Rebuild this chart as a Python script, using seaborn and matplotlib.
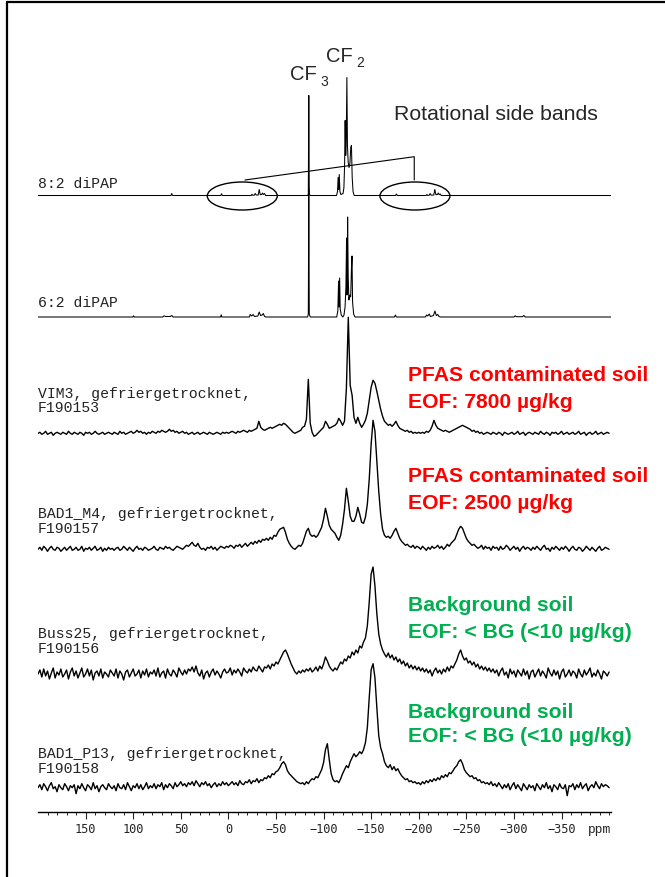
import numpy as np
import matplotlib
matplotlib.use("Agg")
import matplotlib.pyplot as plt
from matplotlib.patches import Ellipse
from matplotlib.lines import Line2D
import seaborn as sns

# ---------------- DATA ----------------
# chemical shift axis of the noisy soil spectra (ppm), 2 ppm sampling
ppm_grid = np.arange(200, -401, -2)

# reference standards: (ppm, intensity) vertices of the line spectra
dipap82_points = [
    (200, 0), (60.3, 0), (59.5, 2), (58.7, 0), (8, 0), (7.2, 1.8), (6.4, 0),
    (-24, 0), (-24.8, 1.2), (-25.8, 0.2), (-27.3, 0.3), (-28.2, 2), (-29.3, 0.5),
    (-31.4, 0.5), (-32.4, 6), (-33.5, 0.8), (-35, 1), (-35.8, 2.5), (-36.8, 1),
    (-38, 2), (-39.2, 0), (-83.4, 0), (-84, 2), (-84.5, 100), (-85, 2), (-85.8, 0),
    (-113.6, 0), (-114.7, 4), (-115.3, 18), (-115.9, 6), (-116.5, 21), (-117.2, 4),
    (-118.2, 1), (-120.5, 2), (-121.4, 8), (-122.1, 30), (-122.7, 75), (-123.3, 40),
    (-123.9, 58), (-124.5, 118), (-125.1, 50), (-125.9, 33), (-126.8, 28),
    (-127.7, 32), (-128.6, 48), (-129.3, 50), (-130.1, 18), (-131, 4), (-132.2, 0),
    (-175.6, 0), (-176.5, 1.5), (-177.4, 0), (-207.6, 0), (-208.5, 1), (-209.5, 0),
    (-211, 0.3), (-212, 2), (-213, 0.3), (-215.8, 0.5), (-216.9, 6), (-218, 0.8),
    (-219.6, 1), (-220.5, 2.5), (-221.5, 0.8), (-222.6, 1.5), (-223.6, 0), (-402, 0),
]
dipap62_points = [
    (200, 0), (100.3, 0), (99.6, 1.2), (98.9, 0), (69, 0), (67.5, 1.2), (66, 0.5),
    (61, 0.5), (59.5, 1.5), (58, 0), (8.2, 0), (7.5, 2.2), (6.8, 0), (-22, 0),
    (-23, 2.5), (-24.5, 1), (-26, 2.5), (-27.5, 0.5), (-31, 1), (-32.4, 5),
    (-33.8, 1.5), (-35.5, 2), (-36.7, 3.5), (-38, 0.5), (-39.5, 0), (-83.2, 0),
    (-84, 3), (-84.5, 128), (-85, 3), (-86, 0), (-113.8, 0), (-115, 6), (-115.8, 36),
    (-116.3, 10), (-116.9, 39), (-117.5, 8), (-118.6, 2), (-120.3, 0), (-121.5, 2),
    (-122.6, 10), (-123.5, 30), (-124.2, 79), (-124.7, 22), (-125.3, 100),
    (-125.9, 40), (-126.6, 17), (-127.5, 22), (-128.5, 20), (-129.3, 48),
    (-129.9, 61), (-130.5, 15), (-131.6, 3), (-133, 0), (-174.5, 0), (-175.5, 2),
    (-176.5, 0), (-207, 0), (-208.2, 2), (-209.5, 1), (-211, 3), (-212.3, 0.5),
    (-215.5, 1.5), (-217, 6), (-218.5, 1.5), (-220, 2.5), (-221.3, 0.5), (-223, 0),
    (-300, 0), (-301.3, 1.2), (-302.5, 0.3), (-309, 0.3), (-310.5, 1.5), (-312, 0),
    (-402, 0),
]

# soil samples: intensity on ppm_grid (200 ... -400 ppm)
vim3_int = [
    0, 1, -1, 0, 2, -1, 0, 1, -2, 0, 1, 0, -1, 1, 0, -1, 2, 0, -1, 1,
    0, -1, 1, 0, -2, 1, 0, 1, -1, 0, 2, 0, -1, 0, 1, -1, 0, 1, 0, -1,
    1, 0, -1, 2, 0, 1, -1, 0, 1, 2, 0, 1, 3, 1, 2, 0, 1, -1, 1, 0,
    2, 1, 0, 2, 1, 3, 2, 1, 2, 4, 2, 3, 1, 2, 0, 1, 2, 0, 1, -1,
    0, 1, -1, 0, 1, -1, 0, 1, 0, -1, 1, 0, -1, 0, 1, 0, -1, 1, 0, 1,
    0, 1, 2, 1, 0, 2, 1, 2, 3, 2, 1, 3, 2, 3, 4, 5, 12, 6, 4, 3,
    4, 5, 6, 5, 6, 7, 8, 9, 8, 10, 9, 7, 5, 3, 1, 0, 1, 2, 3, 6,
    7, 14, 54, 10, 1, -3, -2, 0, 2, 4, 6, 12, 9, 5, 6, 7, 8, 10, 15, 12,
    8, 12, 45, 116, 48, 38, 16, 10, 16, 10, 6, 9, 13, 20, 33, 46, 53, 50, 42, 33,
    24, 17, 12, 10, 8, 9, 7, 9, 12, 8, 5, 4, 3, 2, 3, 1, 2, 0, 1, 0,
    1, 0, 1, 0, 2, 1, 3, 7, 13, 8, 5, 4, 3, 2, 3, 2, 1, 2, 3, 4,
    5, 6, 7, 8, 7, 6, 5, 4, 2, 3, 1, 2, 0, 1, -1, 0, 1, 0, -1, 1,
    0, -1, 1, 0, -2, 1, 0, -1, 0, 1, -1, 0, 2, -1, 0, 1, -2, 0, 1, 0,
    -1, 1, 0, -1, 2, 0, -1, 1, 0, -2, 1, 0, 1, -1, 0, 2, -1, 0, 1, -1,
    0, 1, -1, 0, 2, -1, 0, 1, -2, 0, 1, -1, 0, 2, -1, 0, 1, -1, 0, 1,
    0,
]
bad1_m4_int = [
    0, 2, -1, 3, 1, -2, 1, 3, 0, -1, 2, 1, -2, 0, 2, -1, 1, 3, -1, 0,
    2, -1, 0, 3, -2, 1, 0, 2, -1, 1, 3, -1, 0, 2, -2, 1, -1, 2, 0, 1,
    -1, 1, 2, -1, 0, 3, 1, -1, 2, 0, -2, 1, 3, 0, 1, -1, 2, 1, -1, 0,
    1, 3, 0, -1, 2, 1, 0, 3, 1, 2, 0, -1, 1, 3, 2, 1, 0, 2, 4, 3,
    5, 7, 4, 3, 6, 2, 0, 1, -1, 2, 1, 3, 0, 2, -1, 1, 3, 2, 1, 3,
    2, 4, 3, 1, 4, 3, 5, 2, 4, 6, 3, 5, 7, 5, 8, 6, 9, 7, 10, 9,
    11, 9, 12, 10, 14, 13, 17, 20, 21, 22, 17, 10, 6, 3, 1, 0, 2, 4, 3, 6,
    12, 18, 21, 15, 13, 14, 12, 14, 18, 22, 30, 41, 33, 24, 20, 18, 16, 12, 9, 14,
    25, 40, 61, 48, 33, 28, 28, 33, 42, 35, 27, 26, 32, 45, 70, 105, 129, 118, 88, 58,
    35, 20, 14, 12, 13, 11, 14, 18, 21, 16, 11, 8, 6, 4, 5, 3, 2, 4, 1, 3,
    2, 0, 3, 1, -1, 2, 0, 3, 1, 2, 4, 1, 3, 0, 2, 5, 3, 6, 8, 10,
    15, 20, 23, 21, 16, 11, 8, 6, 4, 5, 3, 1, 2, 4, 0, 3, 1, 2, -1, 3,
    1, 2, -1, 3, 0, 1, 4, 2, -1, 1, 3, 0, 2, -2, 1, 3, 0, 2, 1, -1,
    2, 0, 3, 1, -1, 2, 4, 0, 1, -2, 2, 0, 3, 1, -1, 2, 0, 3, 1, -2,
    1, 3, 0, -1, 2, 1, -2, 0, 3, 1, -1, 2, 0, -2, 1, 3, -1, 0, 2, 1,
    0,
]
buss25_int = [
    0, 4, -3, 5, -2, 3, -5, 1, 6, -4, 2, -1, 5, -3, 0, 4, -5, 2, 6, -2,
    3, -4, 1, 6, -3, 0, 5, -2, 4, -6, 1, 3, -2, 5, -4, 2, 0, -3, 4, 1,
    -2, 5, -4, 3, 0, -6, 2, 4, -3, 1, 5, -2, 0, 4, -4, 3, -1, 5, -3, 2,
    0, 4, -2, 6, -3, 1, 3, -4, 5, 0, -2, 4, 1, -3, 6, 2, -1, 4, 0, 5,
    3, 7, 2, 8, 1, -2, 4, -5, 1, 3, -3, 2, 5, -1, 3, 0, -4, 2, 5, 1,
    2, 6, -1, 4, 1, 5, 2, -2, 6, 3, 1, 5, 2, 7, 4, 3, 8, 5, 2, 7,
    6, 9, 5, 10, 8, 12, 10, 14, 18, 22, 24, 20, 15, 10, 6, 2, 0, 3, 1, 4,
    2, 5, 3, 6, 2, 4, 7, 3, 8, 5, 10, 17, 13, 8, 5, 3, 6, 4, 8, 12,
    10, 15, 13, 18, 16, 22, 19, 24, 21, 28, 26, 32, 36, 48, 72, 100, 107, 88, 60, 40,
    30, 24, 20, 17, 21, 16, 19, 14, 17, 12, 15, 10, 13, 8, 11, 6, 9, 5, 8, 4,
    7, 3, 6, 2, 5, 1, 4, -2, 3, 6, 1, 4, 0, 5, 2, 7, 3, 8, 6, 10,
    14, 20, 24, 18, 14, 16, 11, 13, 9, 12, 7, 10, 5, 8, 4, 7, 3, 6, 2, 5,
    1, 4, -2, 3, 6, -1, 2, -4, 5, 0, 3, -3, 4, 1, -2, 5, -1, 3, -5, 2,
    4, -3, 1, 5, -2, 3, 0, -4, 6, 1, -2, 4, -1, 3, -5, 2, 5, -3, 0, 4,
    -2, 3, 1, -4, 5, 0, -3, 4, -1, 2, 6, -3, 1, -2, 4, 0, -5, 3, 1, -2,
    2,
]
bad1_p13_int = [
    0, 3, -2, 4, 1, -3, 2, 5, -1, 1, -4, 3, 0, -2, 4, 1, -3, 2, 0, 3,
    -6, 2, -1, 4, 0, -3, 3, 1, -2, 5, -1, 2, -4, 1, 3, 0, -2, 4, 1, -1,
    2, -3, 4, 0, -1, 3, -2, 5, 1, -3, 2, 0, 4, -1, 3, -2, 1, 5, -1, 2,
    0, 4, -1, 3, 1, 5, -2, 3, 0, 4, 2, -1, 5, 1, 3, 6, 2, 4, 1, 5,
    3, 6, 2, 7, 4, 1, 5, 3, 6, 2, 4, 0, 3, 5, 1, 4, 2, 6, 3, 5,
    2, 4, 6, 3, 5, 2, 7, 4, 3, 6, 5, 8, 4, 7, 6, 9, 5, 8, 7, 10,
    9, 12, 10, 14, 13, 16, 17, 20, 24, 26, 23, 17, 14, 12, 10, 8, 6, 5, 4, 5,
    3, 6, 4, 7, 9, 8, 11, 10, 14, 18, 25, 38, 44, 28, 14, 8, 6, 7, 5, 9,
    14, 18, 22, 20, 26, 30, 34, 31, 33, 36, 34, 38, 45, 60, 90, 118, 124, 110, 80, 52,
    40, 34, 26, 22, 20, 23, 18, 21, 17, 19, 15, 12, 10, 8, 9, 6, 7, 5, 6, 4,
    5, 3, 6, 4, 7, 5, 8, 6, 9, 7, 10, 8, 12, 10, 13, 11, 15, 14, 17, 20,
    22, 26, 28, 24, 18, 15, 13, 11, 12, 9, 10, 7, 8, 5, 6, 4, 5, 3, 6, 2,
    4, 1, 5, 2, -1, 3, 0, 4, -2, 2, 5, -1, 3, 0, -3, 4, 1, -2, 3, 0,
    2, -3, 4, 1, -2, 3, 0, 5, -1, 2, -4, 3, 1, -2, 4, 0, -1, 3, -8, 2,
    1, 4, -2, 3, 0, 5, -1, 2, 4, -3, 1, 3, 0, 6, 2, -1, 4, 1, 3, 2,
    0,
]

sample_labels = [
    "8:2 diPAP",
    "6:2 diPAP",
    "VIM3, gefriergetrocknet,\nF190153",
    "BAD1_M4, gefriergetrocknet,\nF190157",
    "Buss25, gefriergetrocknet,\nF190156",
    "BAD1_P13, gefriergetrocknet,\nF190158",
]
class_lines = [
    ("PFAS contaminated soil", "EOF: 7800 \u00b5g/kg"),
    ("PFAS contaminated soil", "EOF: 2500 \u00b5g/kg"),
    ("Background soil", "EOF: < BG (<10 \u00b5g/kg)"),
    ("Background soil", "EOF: < BG (<10 \u00b5g/kg)"),
]
major_ticks = [150, 100, 50, 0, -50, -100, -150, -200, -250, -300, -350]

# ---------------- LAYOUT ----------------
H = 811.7                     # axes height in pixel-like units
offsets = [616.2, 494.7, 378.4, 262.4, 137.7, 24.0]
label_y = [(628.7,), (510.0,), (419.0, 405.0), (299.0, 284.4), (179.0, 164.0), (59.4, 44.4)]
class_y = [(438.4, 411.7), (337.7, 310.0), (208.4, 181.7), (101.7, 76.7)]
class_col = ["#FF0000", "#FF0000", "#00B050", "#00B050"]

sns.set_style("white")
plt.rcParams["font.family"] = ["Liberation Sans", "DejaVu Sans"]

fig = plt.figure(figsize=(6.65, 8.77), dpi=100)
ax = fig.add_axes([38 / 665, (877 - H) / 877, 573 / 665, H / 877])
ax.set_xlim(200, -402)
ax.set_ylim(0, H)

spectra = [
    ([p for p, _ in dipap82_points], [v for _, v in dipap82_points], 0.75),
    ([p for p, _ in dipap62_points], [v for _, v in dipap62_points], 0.75),
    (ppm_grid, vim3_int, 1.0),
    (ppm_grid, bad1_m4_int, 1.0),
    (ppm_grid, buss25_int, 1.0),
    (ppm_grid, bad1_p13_int, 1.0),
]
for (x, y, lw), off in zip(spectra, offsets):
    sns.lineplot(x=np.asarray(x, float), y=np.asarray(y, float) + off, ax=ax,
                 color="black", lw=lw, sort=False, estimator=None, legend=False)

# sample labels
for lab, ys in zip(sample_labels, label_y):
    for line, yy in zip(lab.split("\n"), ys):
        ax.text(200, yy, line, ha="left", va="center_baseline",
                fontsize=10.6, family="Liberation Mono", color="#222222")

# class annotations
for (l1, l2), (y1, y2), c in zip(class_lines, class_y, class_col):
    ax.text(-188.6, y1, l1, ha="left", va="center_baseline", fontsize=15.2,
            fontweight="bold", color=c)
    ax.text(-188.6, y2, l2, ha="left", va="center_baseline", fontsize=15.2,
            fontweight="bold", color=c)

# peak annotations
ax.text(-64.7, 739.7, "CF", ha="left", va="center_baseline", fontsize=14.5)
ax.text(-96.7, 731.0, "3", ha="left", va="center_baseline", fontsize=10)
ax.text(-103.0, 757.7, "CF", ha="left", va="center_baseline", fontsize=14.5)
ax.text(-134.0, 750.0, "2", ha="left", va="center_baseline", fontsize=10)
ax.text(-174.0, 698.7, "Rotational side bands", ha="left", va="center_baseline",
        fontsize=15.3)

for cx in (-14.6, -196.0):
    ax.add_patch(Ellipse((cx, 615.7), 73.5, 28, fill=False, ec="black", lw=1.0))
ax.plot([-17.4, -195.3, -195.3], [631.7, 655.0, 631.7], color="black", lw=0.8)

# axis styling
for s in ("left", "right", "top"):
    ax.spines[s].set_visible(False)
ax.spines["bottom"].set_color("black")
ax.spines["bottom"].set_linewidth(1.0)
ax.set_yticks([])
ax.set_xticks(major_ticks)
ax.set_xticks(np.arange(190, -401, -10), minor=True)
ax.set_xticklabels([f"{t}".replace("-", "\u2212") for t in major_ticks],
                   family="DejaVu Sans Mono", fontsize=8.6, color="#222222")
ax.tick_params(axis="x", which="major", direction="out", length=5, width=0.8,
               pad=3.2, bottom=True)
ax.tick_params(axis="x", which="minor", direction="out", length=2.2, width=0.7,
               bottom=True)
ax.set_xlabel("")
ax.set_ylabel("")
ax.text(-389.5, -16.3, "ppm", ha="center", va="center_baseline",
        family="Liberation Mono", fontsize=9.3, color="#222222", clip_on=False)

# outer frame (left and top)
fig.add_artist(Line2D([6.7 / 665, 6.7 / 665], [0, 1 - 1.7 / 877], color="black",
                      lw=1.6, transform=fig.transFigure))
fig.add_artist(Line2D([6.7 / 665, 1], [1 - 1.7 / 877, 1 - 1.7 / 877], color="black",
                      lw=1.6, transform=fig.transFigure))

fig.savefig("out.png", dpi=100)
